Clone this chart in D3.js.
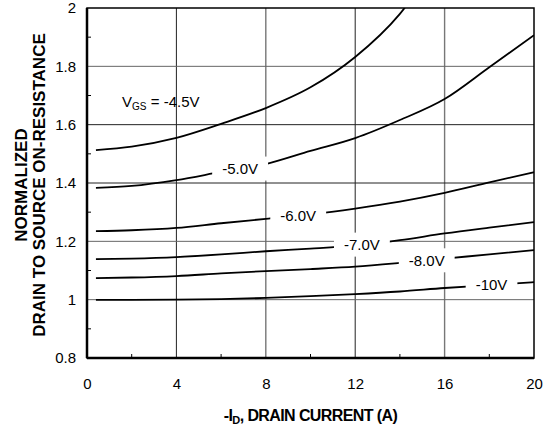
<!DOCTYPE html>
<html>
<head>
<meta charset="utf-8">
<script src="https://cdn.jsdelivr.net/npm/d3@7"></script>
<style>
  body { margin: 0; background: #fff; }
  svg text { font-family: "Liberation Sans", Arial, sans-serif; }
</style>
</head>
<body>
<div id="chart"></div>
<script>
// drain current (A), shared x for all curves
const currents = [0.4, 2, 4, 6, 8, 10, 12, 14, 16, 18, 20];

// normalized on-resistance per gate voltage
const vgs45 = [1.513, 1.525, 1.555, 1.603, 1.657, 1.728, 1.832, 1.98, 2.2, null, null];
const vgs50 = [1.383, 1.39, 1.41, 1.438, 1.465, 1.51, 1.554, 1.616, 1.688, 1.797, 1.907];
const vgs60 = [1.235, 1.238, 1.246, 1.262, 1.277, 1.292, 1.312, 1.336, 1.366, 1.402, 1.437];
const vgs70 = [1.139, 1.141, 1.146, 1.155, 1.166, 1.175, 1.186, 1.204, 1.227, 1.247, 1.266];
const vgs80 = [1.074, 1.076, 1.081, 1.09, 1.098, 1.105, 1.113, 1.126, 1.141, 1.155, 1.17];
const vgs100 = [0.999, 0.999, 1.0, 1.002, 1.006, 1.012, 1.019, 1.028, 1.04, 1.05, 1.06];

const seriesNames = ["-4.5V", "-5.0V", "-6.0V", "-7.0V", "-8.0V", "-10V"];
// where along the current axis each inline label sits (null = separate label)
const labelAt = [null, 6.85, 9.45, 12.3, 15.2, 18.1];

const xTicks = [0, 4, 8, 12, 16, 20];
const yTicks = [0.8, 1, 1.2, 1.4, 1.6, 1.8, 2];
const xMinor = [2, 6, 10, 14, 18];
const yMinor = [0.9, 1.1, 1.3, 1.5, 1.7, 1.9];

const series = [vgs45, vgs50, vgs60, vgs70, vgs80, vgs100];

const margin = {top: 8, right: 18, bottom: 72, left: 87};
const W = 552, H = 430;
const width = W - margin.left - margin.right;
const height = H - margin.top - margin.bottom;

const svg = d3.select("#chart").append("svg")
    .attr("width", W)
    .attr("height", H);

const g = svg.append("g")
    .attr("transform", `translate(${margin.left}, ${margin.top})`);

const x = d3.scaleLinear().domain([0, 20]).range([0, width]);
const y = d3.scaleLinear().domain([0.8, 2]).range([height, 0]);

g.append("clipPath").attr("id", "plot-clip")
  .append("rect").attr("width", width).attr("height", height);

// grid
g.selectAll(".vgrid").data(xTicks.slice(1, -1)).enter().append("line")
    .attr("x1", d => x(d)).attr("x2", d => x(d))
    .attr("y1", 0).attr("y2", height)
    .attr("stroke", (d, i) => i % 2 ? "#777" : "#222")
    .attr("stroke-width", (d, i) => i % 2 ? 1.4 : 1);

g.selectAll(".hgrid").data(yTicks.slice(1, -1)).enter().append("line")
    .attr("x1", 0).attr("x2", width)
    .attr("y1", d => y(d)).attr("y2", d => y(d))
    .attr("stroke", d => (d === 1.4 || d === 1.6) ? "#222" : "#666")
    .attr("stroke-width", 1);

// minor ticks, inward
g.selectAll(".xminor").data(xMinor).enter().append("line")
    .attr("x1", d => x(d)).attr("x2", d => x(d))
    .attr("y1", height).attr("y2", height - 4)
    .attr("stroke", "#000");
g.selectAll(".yminor").data(yMinor).enter().append("line")
    .attr("x1", 0).attr("x2", 4)
    .attr("y1", d => y(d)).attr("y2", d => y(d))
    .attr("stroke", "#000");

// curves
const line = d3.line()
    .defined(d => d[1] != null)
    .x(d => x(d[0]))
    .y(d => y(d[1]))
    .curve(d3.curveMonotoneX);

const curves = g.append("g").attr("clip-path", "url(#plot-clip)");
series.forEach(vals => {
    curves.append("path")
        .datum(currents.map((c, i) => [c, vals[i]]))
        .attr("fill", "none")
        .attr("stroke", "#000")
        .attr("stroke-width", 1.8)
        .attr("d", line);
});

// inline labels with white knock-out boxes
function valueAt(vals, xv) {
    for (let i = 0; i < currents.length - 1; i++) {
        if (xv >= currents[i] && xv <= currents[i + 1]) {
            let t = (xv - currents[i]) / (currents[i + 1] - currents[i]);
            return vals[i] + t * (vals[i + 1] - vals[i]);
        }
    }
    return vals[vals.length - 1];
}

series.forEach((vals, k) => {
    if (labelAt[k] == null) return;
    let cx = x(labelAt[k]);
    let cy = y(valueAt(vals, labelAt[k]));
    let lg = g.append("g");
    let txt = lg.append("text")
        .attr("x", cx).attr("y", cy)
        .attr("dy", "0.36em")
        .attr("text-anchor", "middle")
        .style("font-size", "15px")
        .text(seriesNames[k]);
    let bb = txt.node().getBBox();
    lg.insert("rect", "text")
        .attr("x", bb.x - 10).attr("y", cy - 12)
        .attr("width", bb.width + 20).attr("height", 24)
        .attr("fill", "#fff");
});

// VGS = -4.5V label
const vt = g.append("text")
    .attr("x", x(1.57)).attr("y", y(1.66))
    .style("font-size", "15px");
vt.append("tspan").text("V");
vt.append("tspan").attr("dy", 3).style("font-size", "10px").text("GS");
vt.append("tspan").attr("dy", -3).text(" = " + seriesNames[0]);

// frame
g.append("rect")
    .attr("width", width).attr("height", height)
    .attr("fill", "none").attr("stroke", "#000").attr("stroke-width", 1.5);
g.append("line").attr("x1", 0).attr("x2", width).attr("y1", height).attr("y2", height)
    .attr("stroke", "#000").attr("stroke-width", 2.5);
g.append("line").attr("x1", 0).attr("x2", 0).attr("y1", 0).attr("y2", height)
    .attr("stroke", "#000").attr("stroke-width", 2.5);

// axes (labels only)
const xAxis = g.append("g")
    .attr("transform", `translate(0, ${height})`)
    .call(d3.axisBottom(x).tickValues(xTicks).tickSize(0).tickPadding(20).tickFormat(d3.format("d")));
xAxis.select(".domain").remove();
xAxis.selectAll("text").style("font-size", "15px").attr("font-family", null).attr("fill", "#000");

const yAxis = g.append("g")
    .call(d3.axisLeft(y).tickValues(yTicks).tickSize(0).tickPadding(11).tickFormat(d => d3.format("")(+d.toFixed(1))));
yAxis.select(".domain").remove();
yAxis.selectAll("text").style("font-size", "15px").attr("font-family", null).attr("fill", "#000");

// axis titles
const xt = svg.append("text")
    .attr("x", margin.left + width / 2).attr("y", 421)
    .attr("text-anchor", "middle")
    .style("font-size", "16px").style("font-weight", "bold")
    .style("letter-spacing", "-0.6px");
xt.append("tspan").text("-I");
xt.append("tspan").attr("dy", 3).style("font-size", "11px").text("D");
xt.append("tspan").attr("dy", -3).text(", DRAIN CURRENT (A)");

const yt = svg.append("text")
    .attr("transform", `translate(27, ${margin.top + height / 2 + 2}) rotate(-90)`)
    .attr("text-anchor", "middle")
    .style("font-size", "17px").style("font-weight", "bold");
yt.append("tspan").attr("x", 0).attr("y", 0).text("NORMALIZED");
yt.append("tspan").attr("x", 0).attr("y", 18).text("DRAIN TO SOURCE ON-RESISTANCE");
</script>
</body>
</html>
